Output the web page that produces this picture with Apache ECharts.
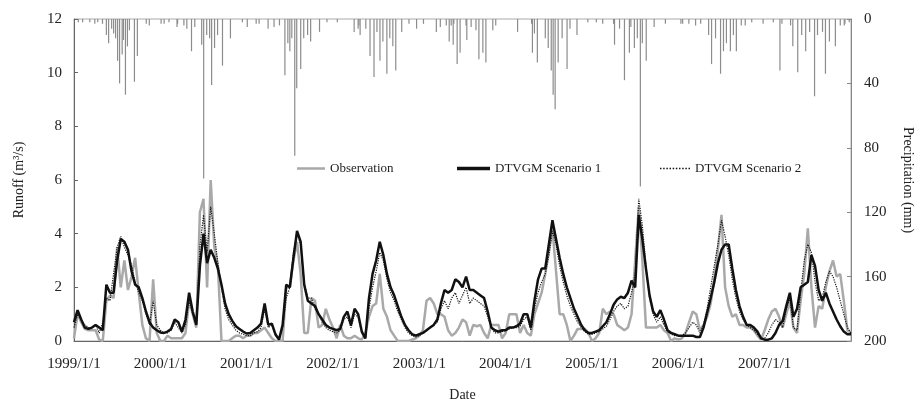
<!DOCTYPE html>
<html>
<head>
<meta charset="utf-8">
<script src="https://cdn.jsdelivr.net/npm/echarts@6/dist/echarts.min.js"></script>
<style>html,body{margin:0;padding:0;background:#fff}#c{width:923px;height:407px}</style>
</head>
<body>
<div id="c"></div>
<script>
// Semi-monthly samples from 1999/1/1 to 2008/1/1 (24 per year)
const startYear = 1999;
const samplesPerYear = 24;

const observation = [
0.1,1.0,0.7,0.45,0.4,0.4,0.4,0.05,0.0,1.5, 1.7,1.6,3.5,2.0,3.0,1.9,2.4,3.1,1.8,0.6,
0.1,0.0,2.3,0.3,0.0,0.0,0.2,0.1,0.1,0.1, 0.1,0.3,1.5,1.0,0.5,4.8,5.3,2.0,6.0,3.5,
2.8,0.0,0.0,0.0,0.1,0.2,0.2,0.1,0.2,0.2, 0.3,0.3,0.4,0.5,0.3,0.1,0.0,0.0,0.0,2.0,
2.0,3.0,3.7,2.5,0.3,0.3,1.6,1.5,0.5,0.6, 1.2,0.8,0.5,
0.1,0.6,0.2,0.1,0.1,0.2,0.1,
0.05,0.3,0.9,1.3,1.4,2.5,1.2,0.9,0.4,0.2, 0.0,0.0,0.0,0.0,0.05,0.1,0.2,0.4,1.5,1.6,
1.4,1.0,1.0,0.9,0.4,0.2,0.3,0.5,0.8,0.7, 0.2,0.6,0.55,0.6,0.3,0.1,0.6,0.6,0.6,0.1,
0.3,1.0,1.0,1.0,0.3,0.6,0.3,0.2,1.0,1.4, 1.8,2.5,3.3,4.2,2.6,1.0,1.0,0.6,0.0,0.2,
0.45,0.45,0.45,0.3,0.0,0.1,0.3,1.2,1.0,1.1, 1.0,0.6,0.5,0.4,
0.5,1.0,3.0,5.0,3.0,0.5,
0.5,0.5,0.5,0.6,0.4,0.3,0.0,0.1,0.05,0.1, 0.3,0.7,1.1,1.0,0.4,0.6,0.9,1.4,2.3,3.4,
4.7,2.0,1.3,0.9,1.0,0.6,0.6,0.5,0.5,0.4, 0.2,0.05,0.4,0.8,1.1,1.2,0.9,0.5,1.0,1.5,
0.5,0.3,1.5,2.5,4.2,2.0,0.5,1.3,1.2,2.0, 2.6,3.0,2.4,2.5,1.5,0.4,0.3
];

const scenario1 = [
0.7,1.15,0.8,0.5,0.45,0.5,0.6,0.5,0.4,2.1, 1.8,1.8,3.0,3.8,3.7,3.4,2.6,2.1,2.0,1.6,
1.1,0.7,0.5,0.4,0.32,0.3,0.35,0.45,0.8,0.7, 0.35,0.8,1.8,1.1,0.6,2.8,4.0,2.9,3.4,3.1,
2.7,2.1,1.4,1.0,0.75,0.55,0.45,0.35,0.28,0.3, 0.4,0.5,0.65,1.4,0.6,0.65,0.25,0.05,0.6,2.1,
2.0,3.1,4.1,3.7,2.1,1.5,1.4,1.3,1.0,0.8, 0.6,0.5,0.45,
0.4,0.45,0.9,1.1,0.6,1.2,1.0,
0.35,0.1,1.6,2.5,3.0,3.7,3.2,2.5,2.0,1.7, 1.3,0.9,0.6,0.4,0.25,0.2,0.25,0.3,0.4,0.5,
0.6,0.8,1.4,1.9,1.8,1.9,2.3,2.2,2.0,2.4, 1.9,1.9,1.8,1.7,1.6,1.1,0.5,0.4,0.35,0.4,
0.4,0.5,0.5,0.55,0.65,1.0,1.0,0.5,1.5,2.3, 2.7,2.7,3.6,4.5,3.8,3.1,2.5,2.0,1.6,1.2,
0.9,0.6,0.4,0.3,0.3,0.35,0.4,0.55,0.7,1.0, 1.35,1.55,1.65,1.6,
1.8,2.25,2.0,4.7,3.8,2.7,
1.7,1.1,0.9,1.15,0.8,0.4,0.3,0.25,0.2,0.2, 0.2,0.2,0.2,0.15,0.15,0.5,1.05,1.6,2.2,2.9,
3.4,3.6,3.6,2.7,1.9,1.3,0.9,0.6,0.6,0.5, 0.35,0.1,0.05,0.05,0.1,0.3,0.6,0.75,1.3,1.8,
0.9,1.2,2.0,2.1,2.2,3.2,2.8,1.9,1.5,1.8, 1.4,1.1,0.8,0.55,0.35,0.25,0.25
];

const scenario2 = [
0.5,1.0,0.8,0.6,0.5,0.5,0.6,0.3,0.7,1.6, 1.5,2.5,3.5,3.9,3.5,3.2,2.8,2.2,1.8,1.5,
1.0,0.6,1.5,0.6,0.4,0.3,0.3,0.4,0.7,0.5, 0.3,0.6,1.5,1.0,0.6,3.5,4.7,3.3,5.0,4.0,
2.9,2.0,1.2,0.8,0.6,0.4,0.3,0.25,0.2,0.2, 0.3,0.35,0.5,1.2,0.5,0.6,0.2,0.05,0.5,1.6,
2.0,3.3,4.0,3.6,2.2,1.6,1.6,1.2,1.0,0.7, 0.5,0.4,0.35,
0.3,0.4,0.8,0.9,0.5,1.0,0.9,
0.3,0.1,1.2,2.0,2.6,3.3,3.0,2.3,1.8,1.5, 1.1,0.8,0.5,0.3,0.2,0.15,0.2,0.3,0.4,0.5,
0.6,0.7,1.2,1.5,1.2,1.6,1.8,1.4,1.7,2.0, 1.4,1.6,1.5,1.4,1.3,0.9,0.5,0.3,0.3,0.35,
0.4,0.45,0.5,0.5,0.55,0.8,0.9,0.4,1.2,1.8, 2.2,2.5,3.2,4.1,3.6,2.8,2.2,1.7,1.3,1.0,
0.7,0.5,0.35,0.25,0.25,0.3,0.35,0.45,0.55,0.8, 1.1,1.3,1.4,1.2,
1.3,1.8,2.5,5.3,4.3,2.8,
1.6,1.0,0.7,0.9,0.6,0.35,0.25,0.2,0.2,0.2, 0.3,0.5,0.7,0.6,0.3,0.6,1.2,2.0,2.8,3.6,
4.5,3.9,3.2,2.3,1.6,1.1,0.8,0.6,0.5,0.4, 0.25,0.1,0.1,0.3,0.6,0.8,0.7,0.5,1.2,1.6,
0.5,0.4,1.8,3.0,3.6,3.3,2.2,1.5,1.6,2.2, 2.6,2.4,2.0,1.5,1.0,0.5,0.3
];

// Daily precipitation events (decimal year, mm)
const precipDates = [
1999.05,1999.10,1999.183,1999.241,1999.275,1999.33,1999.375,1999.401,1999.436,1999.459,
1999.482,1999.505,1999.528,1999.558,1999.573,1999.596,1999.619,1999.642,1999.700,1999.734,
1999.837,1999.872,2000.009,2000.044,2000.10,2000.193,2000.20,2000.273,2000.307,2000.361,
2000.399,2000.479,2000.502,2000.537,2000.571,2000.594,2000.628,2000.663,2000.720,2000.812,
2000.95,2001.007,2001.110,2001.144,2001.248,2001.317,2001.38,2001.443,2001.477,2001.500,
2001.523,2001.557,2001.580,2001.626,2001.661,2001.706,2001.741,2001.844,2001.93,2002.05,
2002.245,2002.291,2002.30,2002.314,2002.38,2002.429,2002.475,2002.509,2002.544,2002.578,
2002.624,2002.658,2002.693,2002.727,2002.796,2002.88,2002.968,2003.048,2003.197,2003.243,
2003.312,2003.346,2003.369,2003.392,2003.40,2003.438,2003.472,2003.541,2003.55,2003.60,
2003.656,2003.690,2003.736,2003.771,2003.851,2003.885,2004.138,2004.30,2004.310,2004.333,
2004.367,2004.459,2004.493,2004.528,2004.550,2004.573,2004.608,2004.654,2004.711,2004.745,
2004.826,2004.952,2005.05,2005.124,2005.25,2005.261,2005.319,2005.376,2005.433,2005.45,
2005.491,2005.525,2005.560,2005.583,2005.628,2005.720,2005.85,2006.030,2006.05,2006.122,
2006.20,2006.259,2006.351,2006.385,2006.431,2006.489,2006.523,2006.557,2006.603,2006.638,
2006.672,2006.729,2006.775,2006.85,2006.982,2007.10,2007.177,2007.20,2007.30,2007.326,
2007.383,2007.429,2007.475,2007.521,2007.578,2007.612,2007.670,2007.704,2007.750,2007.819,
2007.876,2007.922,2007.93,2007.98
];
const precipMm = [
2,2,2,3,2,3,10,15,6,9,
12,26,40,22,13,47,17,7,39,23,
3,4,3,3,2,5,3,4,6,20,
5,16,99,10,12,41,18,10,29,12,
2,5,3,3,6,5,4,35,15,20,
12,85,43,31,12,10,14,8,2,2,
8,6,4,10,6,23,36,8,26,14,
34,12,17,32,8,3,6,3,8,5,
4,14,4,16,3,28,21,4,13,5,
7,25,21,27,7,4,8,3,21,9,
27,12,18,32,47,56,27,12,31,6,
10,2,2,3,3,16,6,38,21,5,
18,12,104,15,26,5,3,3,3,3,
4,3,10,28,12,34,20,15,20,10,
20,4,4,2,3,2,32,3,4,17,
33,10,20,8,48,10,8,34,14,17,
4,4,3,2
];

const sampleX = observation.map((_, i) => startYear + i / samplesPerYear);
const pair = arr => arr.map((v, i) => [sampleX[i], v]);
const precipData = precipDates.map((d, i) => [d, precipMm[i]]);

const font = 'Liberation Serif';
const txt = '#222';
const dottedIcon = 'path://M0,0h1.4v1h-1.4z M3,0h1.4v1h-1.4z M6,0h1.4v1h-1.4z M9,0h1.4v1h-1.4z M12,0h1.4v1h-1.4z M15,0h1.4v1h-1.4z M18,0h1.4v1h-1.4z M21,0h1.4v1h-1.4z M24,0h1.4v1h-1.4z M27,0h1.4v1h-1.4z';
const legendBase = {top: 162, padding: 0, itemGap: 4, symbolKeepAspect: false,
  textStyle: {fontFamily: font, fontSize: 13, color: txt}};
const chart = echarts.init(document.getElementById('c'), null, {renderer: 'canvas'});
chart.setOption({
  animation: false,
  backgroundColor: '#fff',
  textStyle: {fontFamily: font, color: txt},
  grid: {left: 74, right: 62, top: 19, bottom: 61, show: true, borderColor: '#aaa', borderWidth: 1},
  legend: [
    Object.assign({}, legendBase, {left: 297, itemWidth: 28, itemHeight: 2.5,
      data: [{name: 'Observation', icon: 'rect'}]}),
    Object.assign({}, legendBase, {left: 457, itemWidth: 33, itemHeight: 3.5, itemGap: 3,
      data: [{name: 'DTVGM Scenario 1', icon: 'rect'}]}),
    Object.assign({}, legendBase, {left: 660, itemWidth: 30, itemHeight: 1.3,
      data: [{name: 'DTVGM Scenario 2', icon: dottedIcon}]})
  ],
  xAxis: {
    type: 'value', min: 1999, max: 2008, interval: 1,
    name: 'Date', nameLocation: 'middle', nameGap: 47,
    nameTextStyle: {fontFamily: font, fontSize: 14, color: txt},
    axisLine: {show: true, lineStyle: {color: '#666'}},
    axisTick: {show: false},
    splitLine: {show: false},
    axisLabel: {margin: 16, fontFamily: font, fontSize: 15, color: txt, showMaxLabel: false,
      formatter: v => v >= 2008 ? '' : v + '/1/1'}
  },
  yAxis: [
    {type: 'value', min: 0, max: 12, interval: 2,
     name: 'Runoff (m\u00b3/s)', nameLocation: 'middle', nameGap: 48, nameRotate: 90,
     nameTextStyle: {fontFamily: font, fontSize: 14, color: txt},
     axisLine: {show: true, lineStyle: {color: '#666'}},
     axisTick: {show: true, inside: true, length: 4, lineStyle: {color: '#666'}},
     splitLine: {show: false},
     axisLabel: {margin: 12, fontFamily: font, fontSize: 15, color: txt}},
    {type: 'value', min: 0, max: 200, interval: 40, inverse: true, position: 'right',
     name: 'Precipitation (mm)', nameLocation: 'middle', nameGap: 50, nameRotate: -90,
     nameTextStyle: {fontFamily: font, fontSize: 14, color: txt},
     axisLine: {show: true, lineStyle: {color: '#888'}},
     axisTick: {show: true, inside: true, length: 4, lineStyle: {color: '#888'}},
     splitLine: {show: false},
     axisLabel: {margin: 13, fontFamily: font, fontSize: 15, color: txt}}
  ],
  series: [
    {name: 'Precipitation', type: 'bar', yAxisIndex: 1, data: precipData,
     barWidth: 1.2, itemStyle: {color: '#8c8c8c'}, silent: true},
    {name: 'Observation', type: 'line', data: pair(observation), symbol: 'none',
     lineStyle: {color: '#a9a9a9', width: 2.5}, itemStyle: {color: '#a9a9a9'}},
    {name: 'DTVGM Scenario 1', type: 'line', data: pair(scenario1), symbol: 'none',
     lineStyle: {color: '#111', width: 2.5}, itemStyle: {color: '#111'}},
    {name: 'DTVGM Scenario 2', type: 'line', data: pair(scenario2), symbol: 'none',
     lineStyle: {color: '#111', width: 1.2, type: 'dotted'}, itemStyle: {color: '#111'}}
  ]
});
</script>
</body>
</html>
